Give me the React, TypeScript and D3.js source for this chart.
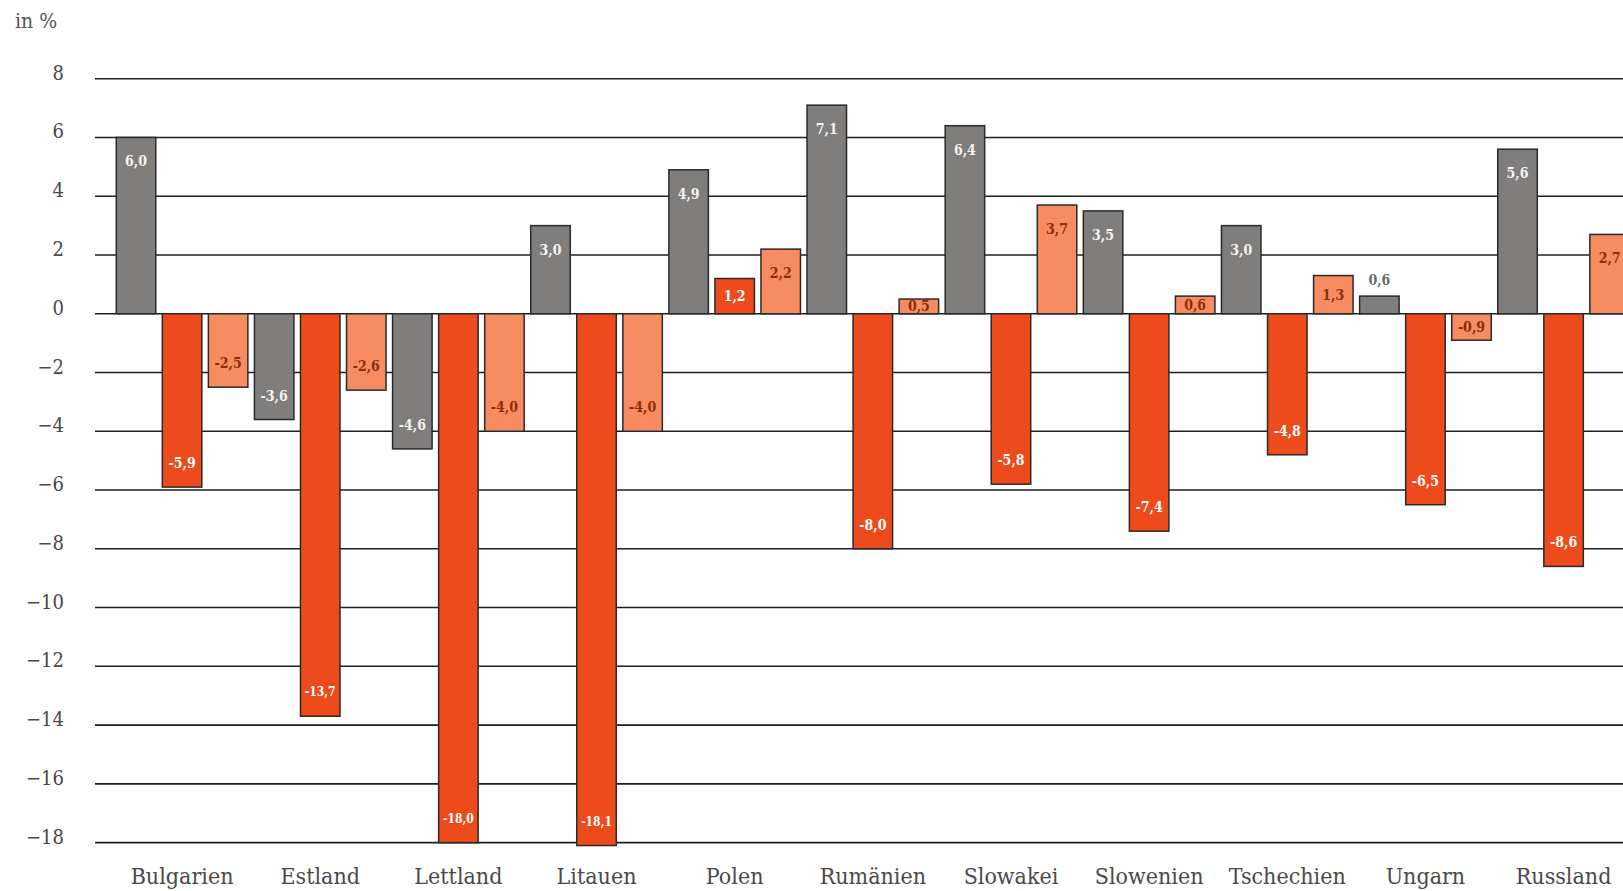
import React from "react";
import * as d3 from "d3";

// ---- data ----
const countries = [
  "Bulgarien", "Estland", "Lettland", "Litauen", "Polen", "Rumänien",
  "Slowakei", "Slowenien", "Tschechien", "Ungarn", "Russland",
];
const seriesNames = ["grau", "rot", "orange"];
const grauValues = [6.0, -3.6, -4.6, 3.0, 4.9, 7.1, 6.4, 3.5, 3.0, 0.6, 5.6];
const rotValues = [-5.9, -13.7, -18.0, -18.1, 1.2, -8.0, -5.8, -7.4, -4.8, -6.5, -8.6];
const orangeValues = [-2.5, -2.6, -4.0, -4.0, 2.2, 0.5, 3.7, 0.6, 1.3, -0.9, 2.7];
const yTicks = [8, 6, 4, 2, 0, -2, -4, -6, -8, -10, -12, -14, -16, -18];
const unitLabel = "in %";

// ---- styles ----
const W = 1623;
const H = 891;
const fill: Record<string, string> = { grau: "#807e7c", rot: "#ee4b1c", orange: "#f68c5f" };
const labelFill: Record<string, string> = { grau: "#f4f4f4", rot: "#ffffff", orange: "#8a2e0c" };
const serif = "'DejaVu Serif Condensed', 'DejaVu Serif', serif";

const de = d3.formatLocale({ decimal: ",", thousands: ".", grouping: [3], currency: ["", " €"], minus: "-" });
const fmtVal = de.format(".1f");
const deTick = d3.formatLocale({ decimal: ",", thousands: ".", grouping: [3], currency: ["", " €"], minus: "\u2212" });
const fmtTick = deTick.format("d");

export default function App() {
  const y = d3.scaleLinear().domain([-18, 8]).range([842.6, 78.7]);
  const groupStep = 138.15;
  const x0 = 113;
  const x = d3.scaleBand<string>().domain(countries).range([x0, x0 + groupStep * countries.length]).padding(0);
  const xi = d3.scaleBand<string>().domain(seriesNames).range([0, x.bandwidth()]).paddingInner(0.142).paddingOuter(0.071);
  const gridLeft = 95;

  const seriesData: Record<string, number[]> = { grau: grauValues, rot: rotValues, orange: orangeValues };

  const bars: any[] = [];
  countries.forEach((c, i) => {
    seriesNames.forEach((s) => {
      const v = seriesData[s][i];
      bars.push({ c, s, v });
    });
  });

  return (
    <div style={{ position: "absolute", left: 0, top: 0 }}>
      <svg width={W} height={H} style={{ display: "block", background: "#fff" }}>
        <text x={15} y={28} fontFamily={serif} fontSize={21} fill="#555">{unitLabel}</text>
        {yTicks.map((t) => (
          <g key={t}>
            <line x1={gridLeft} x2={W} y1={y(t)} y2={y(t)} stroke="#1e1e1e" strokeWidth={1.6} />
            <text x={64} y={y(t) + 1} textAnchor="end" fontFamily={serif} fontSize={20} fill="#484848">
              {fmtTick(t)}
            </text>
          </g>
        ))}
        {bars.map((b, k) => {
          const bx = (x(b.c) as number) + (xi(b.s) as number);
          const bw = xi.bandwidth();
          const top = y(Math.max(0, b.v));
          const bot = y(Math.min(0, b.v));
          const h = bot - top;
          const off = Math.min(24, h / 2);
          let ly = b.v >= 0 ? top + off : bot - off;
          let col = labelFill[b.s];
          if (b.s === "grau" && h < 18) {
            ly = top - 16;
            col = "#6a6a6a";
          }
          const txt = fmtVal(b.v);
          return (
            <g key={k}>
              <rect x={bx} y={top} width={bw} height={h} fill={fill[b.s]} stroke="#2a2a2a" strokeWidth={1.5} />
              <text
                x={bx + bw / 2}
                y={ly}
                textAnchor="middle"
                dominantBaseline="central"
                fontFamily={serif}
                fontWeight="bold"
                fontSize={txt.length > 4 ? 12 : 14}
                fill={col}
              >
                {txt}
              </text>
            </g>
          );
        })}
        {countries.map((c) => (
          <text
            key={c}
            x={(x(c) as number) + x.bandwidth() / 2}
            y={884}
            textAnchor="middle"
            fontFamily={serif}
            fontSize={23}
            fill="#4a4a4a"
          >
            {c}
          </text>
        ))}
      </svg>
    </div>
  );
}
